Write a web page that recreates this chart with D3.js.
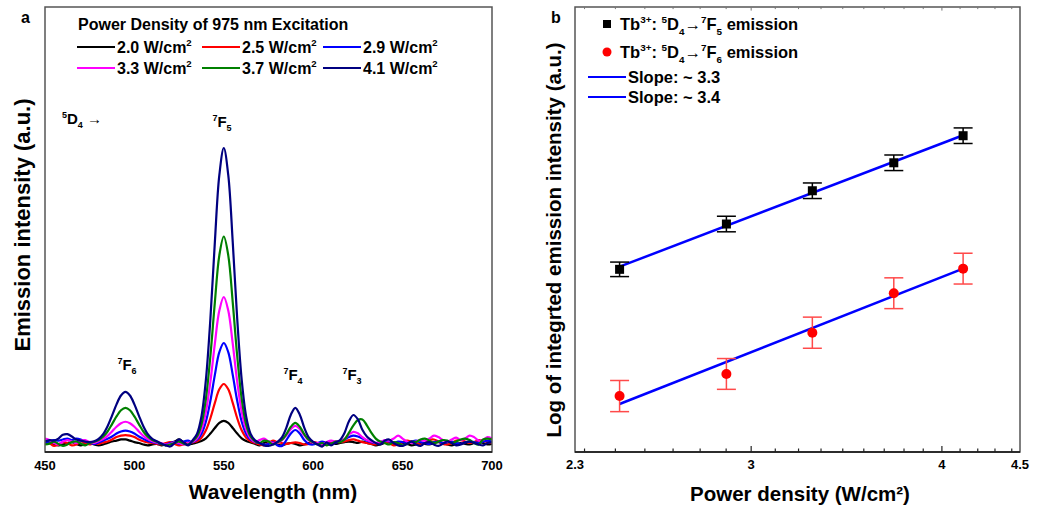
<!DOCTYPE html>
<html><head><meta charset="utf-8">
<script src="https://cdn.jsdelivr.net/npm/d3@7"></script>
<style>
body{margin:0;background:#fff}
svg{display:block}
text{font-family:"Liberation Sans",Arial,Helvetica,sans-serif;font-weight:bold;fill:#000}
</style>
</head><body>
<svg id="chart" width="1038" height="507"></svg>
<script>
// ---------- Panel a: emission spectra (intensity in a.u. x1000) ----------
const wlStart = 450, wlStep = 2.5;
const powerLabels = ["2.0", "2.5", "2.9", "3.3", "3.7", "4.1"];
const seriesColors = ["#000000", "#ff0000", "#0000ff", "#ff00ff", "#008000", "#000080"];

const spec20 = [0,3,-3,-8,-5,0,3,-3,-8,-3, 0,-5,-8,-5,0,5,8,12,12,8, 3,0,-5,-8,-5,-3,-8,-5,0,5,
  12,3,-5,-2,2,7,16,32,51,68, 75,68,51,32,16,7,2,-3,-8,0, 5,0,-5,-8,-3,0,-3,-8,-5,0,
  3,-3,-8,-5,0,-3,0,3,5,3, 0,5,0,-3,-8,-5,0,3,-3,-5, 0,-3,-8,-5,0,-3,-5,0,3,0,
  -5,-8,-3,0,-3,-5,0,3,0,-5, -3];
const spec25 = [10,0,-10,-5,3,0,-8,-5,5,0, -5,0,-3,2,5,12,20,25,27,25, 20,12,6,2,0,-3,-5,0,3,-3,
  -8,-5,0,2,6,18,43,84,136,182, 200,182,136,84,43,18,6,0,-5,-8, 0,8,3,0,-3,0,2,0,-5,-3,
  3,0,-8,-5,0,5,3,5,10,12, 8,3,0,-3,-5,0,5,0,-8,-5, 3,8,5,0,-5,0,10,12,5,-3,
  -5,0,8,10,5,0,3,10,8,3, 0];
const spec29 = [0,5,10,8,12,15,10,15,12,5, 0,-3,2,8,14,22,32,39,42,39, 32,22,14,7,3,0,-3,-5,0,3,
  -2,5,8,3,11,31,73,143,231,308, 339,308,231,143,73,31,11,3,0,-5, -3,2,-8,-10,10,32,44,32,10,-3,
  -5,0,5,0,-3,2,5,12,20,25, 22,15,8,3,0,3,8,5,0,5, 3,0,5,8,3,0,-3,3,5,0,
  3,5,0,-3,2,5,3,0,5,8, 5];
const spec33 = [15,10,0,-5,5,10,5,0,8,10, 3,0,6,13,24,39,55,67,72,67, 55,39,24,13,6,2,0,-5,-3,2,
  0,-5,0,4,15,45,106,208,337,449, 495,449,337,208,106,45,15,4,10,15, 5,0,2,9,26,47,58,47,26,9,
  2,0,-5,3,8,5,5,14,29,38, 33,20,10,5,0,3,10,8,15,25, 15,5,0,5,10,8,15,25,20,10,
  5,12,18,10,15,25,20,8,10,20, 15];
const spec37 = [-5,-2,5,-3,-10,-5,3,5,-2,-8, 0,4,10,21,39,64,90,111,119,111, 90,64,39,21,10,4,-3,-8,-5,0,
  5,-2,-5,6,22,63,150,295,477,636, 700,636,477,295,150,63,22,6,0,8, 5,-5,3,11,30,55,68,55,30,11,
  3,-5,0,-8,-3,5,3,12,35,60, 78,80,60,35,15,5,0,-5,3,0, -8,-3,5,3,12,15,8,0,5,10,
  8,0,5,12,15,10,0,-5,12,15, 12];
const spec41 = [5,10,8,15,28,30,22,12,8,5, 3,6,14,30,57,93,131,161,173,161, 131,93,57,30,14,6,-2,-8,-12,0,
  12,2,-8,9,31,90,215,421,681,908, 1000,908,681,421,215,90,31,9,0,-8, -10,-5,4,19,52,96,119,96,52,19,
  4,-5,-12,2,-8,2,10,34,74,95, 80,45,22,10,0,-5,8,12,0,-8, -10,-3,5,-5,-10,0,3,-5,-10,-3,
  5,0,-8,-5,2,5,0,-5,-8,0, 3];
const spectra = [spec20, spec25, spec29, spec33, spec37, spec41];

const xTicksA = [450, 500, 550, 600, 650, 700];

// ---------- Panel b: integrated intensity vs. power density (log-log) ----------
const powerB = [2.46, 2.89, 3.29, 3.72, 4.13];
const logF5 = [4.032, 4.288, 4.476, 4.634, 4.787];
const errF5 = [0.041, 0.044, 0.044, 0.044, 0.044];
const logF6 = [3.316, 3.441, 3.674, 3.897, 4.036];
const errF6 = [0.088, 0.087, 0.088, 0.087, 0.087];
const fitSlopes = [3.3, 3.4];
const fitIntercepts = [2.757, 1.942];
const xTicksB = [2.3, 3, 4, 4.5];

const svg = d3.select("#chart");

// helper: text with super/subscripts
function rich(g, x, y, parts, size, anchor) {
  const t = g.append("text").attr("x", x).attr("y", y)
    .attr("font-size", size).attr("text-anchor", anchor || "start");
  let shift = 0;
  parts.forEach(([s, k]) => {
    const target = k === "sup" ? -size * 0.42 : k === "sub" ? size * 0.28 : 0;
    t.append("tspan").attr("dy", target - shift)
      .attr("font-size", k ? size * 0.6 : size).text(s);
    shift = target;
  });
  return t;
}

// ================= Panel a =================
const A = {l: 45, r: 492, t: 7, b: 452};
const xA = d3.scaleLinear().domain([450, 700]).range([A.l, A.r]);
const yA = d3.scaleLinear().domain([-30.5, 1478]).range([A.b, A.t]);
const gA = svg.append("g");

gA.append("clipPath").attr("id", "clipA").append("rect")
  .attr("x", A.l).attr("y", A.t).attr("width", A.r - A.l).attr("height", A.b - A.t);

const lineA = d3.line()
  .x((d, i) => xA(wlStart + i * wlStep))
  .y(d => yA(d))
  .curve(d3.curveCatmullRom.alpha(0.5));

gA.append("g").attr("clip-path", "url(#clipA)")
  .selectAll("path").data(spectra).join("path")
  .attr("d", lineA).attr("fill", "none")
  .attr("stroke", (d, i) => seriesColors[i]).attr("stroke-width", 2.2)
  .attr("stroke-linejoin", "round");

gA.append("rect").attr("x", A.l).attr("y", A.t)
  .attr("width", A.r - A.l).attr("height", A.b - A.t)
  .attr("fill", "none").attr("stroke", "#555").attr("stroke-width", 1.5);
gA.append("line").attr("x1", A.l).attr("x2", A.r).attr("y1", A.b).attr("y2", A.b)
  .attr("stroke", "#111").attr("stroke-width", 1.5);

gA.selectAll(".xt").data(xTicksA).join("text")
  .attr("x", d => xA(d)).attr("y", 470).attr("text-anchor", "middle")
  .attr("font-size", 13).text(d => d);

gA.append("text").attr("x", 273).attr("y", 499).attr("text-anchor", "middle")
  .attr("font-size", 21).text("Wavelength (nm)");
gA.append("text").attr("transform", "translate(30,225) rotate(-90)")
  .attr("text-anchor", "middle").attr("font-size", 22).text("Emission intensity (a.u.)");
gA.append("text").attr("x", 21).attr("y", 23).attr("font-size", 16).text("a");

// legend
gA.append("text").attr("x", 78).attr("y", 30).attr("font-size", 16)
  .text("Power Density of 975 nm Excitation");
const legPos = [[77, 47], [202, 47], [323, 47], [77, 68], [202, 68], [323, 68]];
powerLabels.forEach((p, i) => {
  const [lx, ly] = legPos[i];
  gA.append("line").attr("x1", lx).attr("x2", lx + 38).attr("y1", ly).attr("y2", ly)
    .attr("stroke", seriesColors[i]).attr("stroke-width", 2.2);
  rich(gA, lx + 40, ly + 6, [[p + " W/cm", ""], ["2", "sup"]], 16);
});

// transition labels
rich(gA, 62, 124, [["5", "sup"], ["D", ""], ["4", "sub"], [" \u2192", ""]], 15);
rich(gA, 222, 127, [["7", "sup"], ["F", ""], ["5", "sub"]], 15, "middle");
rich(gA, 127, 370, [["7", "sup"], ["F", ""], ["6", "sub"]], 15, "middle");
rich(gA, 293, 380, [["7", "sup"], ["F", ""], ["4", "sub"]], 15, "middle");
rich(gA, 352, 380, [["7", "sup"], ["F", ""], ["3", "sub"]], 15, "middle");

// ================= Panel b =================
const B = {l: 575, r: 1020, t: 7, b: 452};
const xB = d3.scaleLog().domain([2.3, 4.5]).range([B.l, B.r]);
const yB = d3.scaleLinear().domain([3.0, 3.0 + 445 / 177]).range([B.b, B.t]);
const gB = svg.append("g");

gB.append("rect").attr("x", B.l).attr("y", B.t)
  .attr("width", B.r - B.l).attr("height", B.b - B.t)
  .attr("fill", "none").attr("stroke", "#555").attr("stroke-width", 1.5);
gB.append("line").attr("x1", B.l).attr("x2", B.r).attr("y1", B.b).attr("y2", B.b)
  .attr("stroke", "#111").attr("stroke-width", 1.5);

// ticks: majors labelled, minors every 1/9 between integers
const minorB = d3.range(18, 41).map(k => k / 9)
  .filter(v => v > 2.3 + 1e-6 && v < 4.5 - 1e-6 && Math.abs(v - Math.round(v)) > 1e-6);
const tickSet = [...xTicksB.filter(v => v > 2.3 && v < 4.5).map(v => [v, 6]), ...minorB.map(v => [v, 3.5])];
gB.selectAll(".tb").data(tickSet).join("line")
  .attr("x1", d => xB(d[0])).attr("x2", d => xB(d[0]))
  .attr("y1", B.b).attr("y2", d => B.b - d[1])
  .attr("stroke", "#222").attr("stroke-width", 1.2);
gB.selectAll(".tt").data(tickSet).join("line")
  .attr("x1", d => xB(d[0])).attr("x2", d => xB(d[0]))
  .attr("y1", B.t).attr("y2", d => B.t + d[1] * 0.6)
  .attr("stroke", "#777").attr("stroke-width", 1);
gB.selectAll(".xl").data(xTicksB).join("text")
  .attr("x", d => xB(d)).attr("y", 469).attr("text-anchor", "middle")
  .attr("font-size", 13).text(d => d);

gB.append("text").attr("x", 800).attr("y", 501).attr("text-anchor", "middle")
  .attr("font-size", 20.5).text("Power density (W/cm\u00b2)");
gB.append("text").attr("transform", "translate(561,240) rotate(-90)")
  .attr("text-anchor", "middle").attr("font-size", 20.5)
  .text("Log of integrted emission intensity (a.u.)");
gB.append("text").attr("x", 551).attr("y", 23).attr("font-size", 16).text("b");

// fit lines
fitSlopes.forEach((s, k) => {
  const fx = [powerB[0], powerB[powerB.length - 1]];
  gB.append("line")
    .attr("x1", xB(fx[0])).attr("y1", yB(fitIntercepts[k] + s * Math.log10(fx[0])))
    .attr("x2", xB(fx[1])).attr("y2", yB(fitIntercepts[k] + s * Math.log10(fx[1])))
    .attr("stroke", "#0000ff").attr("stroke-width", 2.5);
});

// error bars
function errBars(vals, errs, color) {
  const g = gB.append("g").attr("stroke", color).attr("stroke-width", 1.5);
  vals.forEach((v, i) => {
    const x = xB(powerB[i]);
    g.append("line").attr("x1", x).attr("x2", x).attr("y1", yB(v - errs[i])).attr("y2", yB(v + errs[i]));
    [v - errs[i], v + errs[i]].forEach(e =>
      g.append("line").attr("x1", x - 9.5).attr("x2", x + 9.5).attr("y1", yB(e)).attr("y2", yB(e)));
  });
}
errBars(logF5, errF5, "#000");
errBars(logF6, errF6, "#ff4a4a");

gB.selectAll(".sq").data(logF5).join("rect")
  .attr("x", (d, i) => xB(powerB[i]) - 4.5).attr("y", d => yB(d) - 4.5)
  .attr("width", 9).attr("height", 9).attr("fill", "#000");
gB.selectAll(".ci").data(logF6).join("circle")
  .attr("cx", (d, i) => xB(powerB[i])).attr("cy", d => yB(d)).attr("r", 5)
  .attr("fill", "#ff0000");

// legend
gB.append("rect").attr("x", 603).attr("y", 20).attr("width", 8).attr("height", 8).attr("fill", "#000");
rich(gB, 620, 30, [["Tb", ""], ["3+", "sup"], [": ", ""], ["5", "sup"], ["D", ""], ["4", "sub"],
  ["\u2192", ""], ["7", "sup"], ["F", ""], ["5", "sub"], [" emission", ""]], 16.5);
gB.append("circle").attr("cx", 607).attr("cy", 52).attr("r", 4.5).attr("fill", "#ff0000");
rich(gB, 620, 58, [["Tb", ""], ["3+", "sup"], [": ", ""], ["5", "sup"], ["D", ""], ["4", "sub"],
  ["\u2192", ""], ["7", "sup"], ["F", ""], ["6", "sub"], [" emission", ""]], 16.5);
["Slope: ~ 3.3", "Slope: ~ 3.4"].forEach((s, k) => {
  const ly = 77 + k * 20;
  gB.append("line").attr("x1", 588).attr("x2", 626).attr("y1", ly).attr("y2", ly)
    .attr("stroke", "#0000ff").attr("stroke-width", 2.2);
  gB.append("text").attr("x", 628).attr("y", ly + 6).attr("font-size", 16.5).text(s);
});
</script>
</body></html>
